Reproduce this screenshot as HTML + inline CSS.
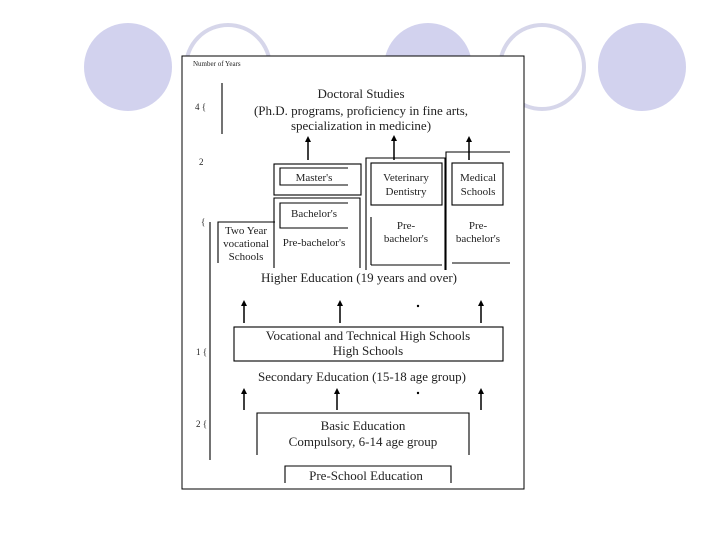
<!DOCTYPE html>
<html><head><meta charset="utf-8"><style>
body{margin:0;width:720px;height:540px;background:#fff;overflow:hidden;position:relative;font-family:"Liberation Serif",serif;}
.c{position:absolute;border-radius:50%;}
.f{background:#d2d2ee;width:88px;height:88px;}
.o{border:4px solid #d6d6ea;width:80px;height:80px;}
</style></head><body>
<div class="c f" style="left:84px;top:23px"></div>
<div class="c o" style="left:184px;top:23px"></div>
<div class="c f" style="left:384px;top:23px"></div>
<div class="c o" style="left:498px;top:23px"></div>
<div class="c f" style="left:598px;top:23px"></div>
<svg style="position:absolute;left:0;top:0" width="720" height="540" font-family="Liberation Serif, serif" fill="#222">
<defs><marker id="a" markerWidth="6" markerHeight="6" refX="4" refY="3" orient="auto" markerUnits="userSpaceOnUse"><path d="M0,0 L6,3 L0,6 Z" fill="#000"/></marker></defs>
<rect x="182" y="56" width="342" height="433" fill="#fff" stroke="#000" stroke-width="1"/>
<text x="193" y="66" font-size="7">Number of Years</text>
<g stroke="#000" fill="none" stroke-width="1.1">
<line x1="222" y1="83" x2="222" y2="134"/>
<line x1="210" y1="222" x2="210" y2="460"/>
<rect x="274" y="164" width="87" height="31"/>
<polyline points="348,168 280,168 280,185 348,185"/>
<polyline points="360,268 360,198 274,198 274,268"/>
<polyline points="348,203 280,203 280,228 348,228"/>
<polyline points="218,263 218,222 275,222"/>
<polyline points="366,270 366,158 445,158 445,270"/>
<rect x="371" y="163" width="71" height="42"/>
<polyline points="371,265 371,217"/>
<line x1="371" y1="265" x2="442" y2="265"/>
<polyline points="446,270 446,152 510,152"/>
<rect x="452" y="163" width="51" height="42"/>
<line x1="452" y1="263" x2="510" y2="263"/>
<rect x="234" y="327" width="269" height="34"/>
<polyline points="257,455 257,413 469,413 469,455"/>
<polyline points="285,483 285,466 451,466 451,483"/>
</g>
<g stroke="#000" stroke-width="1.5" marker-end="url(#a)">
<line x1="308" y1="160" x2="308" y2="138"/>
<line x1="394" y1="160" x2="394" y2="137"/>
<line x1="469" y1="160" x2="469" y2="138"/>
<line x1="244" y1="323" x2="244" y2="302"/>
<line x1="340" y1="323" x2="340" y2="302"/>
<line x1="481" y1="323" x2="481" y2="302"/>
<line x1="244" y1="410" x2="244" y2="390"/>
<line x1="337" y1="410" x2="337" y2="390"/>
<line x1="481" y1="410" x2="481" y2="390"/>
</g>
<circle cx="418" cy="306" r="1.2" fill="#000"/><circle cx="418" cy="393" r="1.2" fill="#000"/>
<g text-anchor="middle" font-size="13">
<text x="361" y="98">Doctoral Studies</text>
<text x="361" y="115">(Ph.D. programs, proficiency in fine arts,</text>
<text x="361" y="130">specialization in medicine)</text>
<text x="359" y="282">Higher Education (19 years and over)</text>
<text x="368" y="340">Vocational and Technical High Schools</text>
<text x="368" y="355">High Schools</text>
<text x="362" y="381">Secondary Education (15-18 age group)</text>
<text x="363" y="430">Basic Education</text>
<text x="363" y="446">Compulsory, 6-14 age group</text>
<text x="366" y="480">Pre-School Education</text>
</g>
<g text-anchor="middle" font-size="11">
<text x="314" y="181">Master's</text>
<text x="314" y="217">Bachelor's</text>
<text x="314" y="246">Pre-bachelor's</text>
<text x="246" y="234">Two Year</text>
<text x="246" y="247">vocational</text>
<text x="246" y="260">Schools</text>
<text x="406" y="181">Veterinary</text>
<text x="406" y="195">Dentistry</text>
<text x="406" y="229">Pre-</text>
<text x="406" y="242">bachelor's</text>
<text x="478" y="181">Medical</text>
<text x="478" y="195">Schools</text>
<text x="478" y="229">Pre-</text>
<text x="478" y="242">bachelor's</text>
</g>
<g font-size="9">
<text x="195" y="110">4 {</text><text x="199" y="165">2</text><text x="201" y="225">{</text>
<text x="196" y="355">1 {</text><text x="196" y="427">2 {</text>
</g>
</svg>
</body></html>
